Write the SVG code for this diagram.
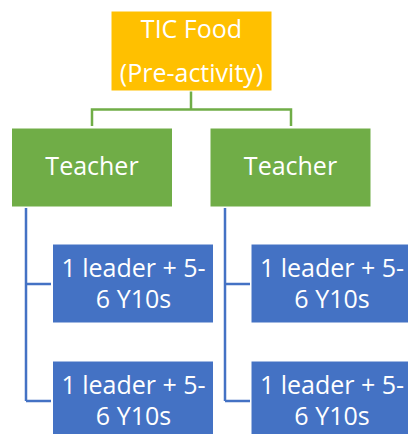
<svg xmlns="http://www.w3.org/2000/svg" width="408" height="434" viewBox="0 0 408 434">
<style>
.t{font-family:"Open Sans","Liberation Sans",sans-serif;fill:#fff;text-anchor:middle;font-size:25px}
.g{stroke:#70AD47;stroke-width:2.5;fill:none}
.b{stroke:#4472C4;stroke-width:2.5;fill:none}
</style>
<rect width="408" height="434" fill="#fff"/>
<g id="connectors">
<path class="g" d="M191 91V109.5M92 126V109.5H291V126"/>
<path class="b" d="M26 208V401M26 284H51M26 401H51"/>
<path class="b" d="M225 208V401M225 284H250M225 401H250"/>
</g>
<g id="root">
<rect x="111" y="11" width="161" height="80" fill="#FFC000" stroke="#fff" stroke-width="1"/>
<text class="t" x="191.5" y="37.5">TIC Food</text>
<text class="t" x="191.5" y="81.5">(Pre-activity)</text>
</g>
<g id="teacher1">
<rect x="11.5" y="128" width="161" height="79" fill="#70AD47" stroke="#fff" stroke-width="1"/>
<text class="t" x="92" y="175">Teacher</text>
</g>
<g id="teacher2">
<rect x="210" y="128" width="161" height="79" fill="#70AD47" stroke="#fff" stroke-width="1"/>
<text class="t" x="290.5" y="175">Teacher</text>
</g>
<g id="group1">
<rect x="52.5" y="244" width="161" height="79" fill="#4472C4" stroke="#fff" stroke-width="1"/>
<text class="t" x="133.5" y="277">1 leader + 5-</text>
<text class="t" x="133.5" y="308">6 Y10s</text>
</g>
<g id="group2">
<rect x="52.5" y="361" width="161" height="79" fill="#4472C4" stroke="#fff" stroke-width="1"/>
<text class="t" x="133.5" y="394">1 leader + 5-</text>
<text class="t" x="133.5" y="425">6 Y10s</text>
</g>
<g id="group3">
<rect x="251" y="244" width="161" height="79" fill="#4472C4" stroke="#fff" stroke-width="1"/>
<text class="t" x="332" y="277">1 leader + 5-</text>
<text class="t" x="332" y="308">6 Y10s</text>
</g>
<g id="group4">
<rect x="251" y="361" width="161" height="79" fill="#4472C4" stroke="#fff" stroke-width="1"/>
<text class="t" x="332" y="394">1 leader + 5-</text>
<text class="t" x="332" y="425">6 Y10s</text>
</g>
</svg>
